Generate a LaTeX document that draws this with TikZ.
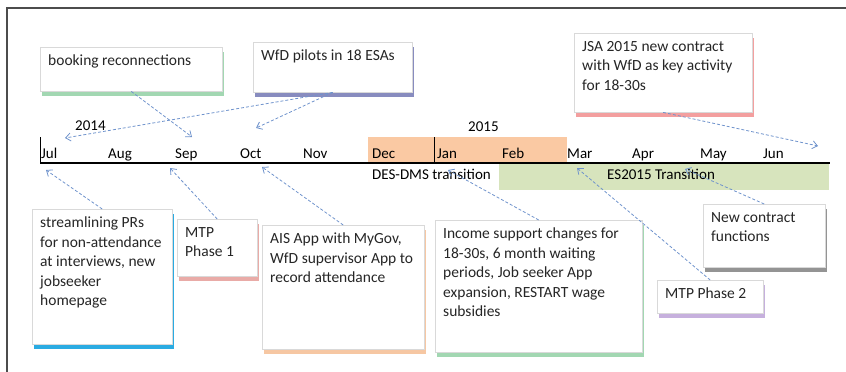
\documentclass[tikz,border=0pt]{standalone}
\usepackage{fontspec}
\setmainfont{Carlito}
\usetikzlibrary{arrows.meta,shadows}

\definecolor{linkblue}{HTML}{6F93CC}
\definecolor{decband}{HTML}{FAC9A3}
\definecolor{esband}{HTML}{D7E4BD}
\definecolor{notegreen}{HTML}{9DD5AE}
\definecolor{noteslate}{HTML}{8286BC}
\definecolor{notered}{HTML}{F29A9A}
\definecolor{noteblue}{HTML}{1FA6E0}
\definecolor{notepink}{HTML}{E8A6A2}
\definecolor{noteorange}{HTML}{F6C49E}
\definecolor{notepurple}{HTML}{C3ACDB}
\definecolor{notegray}{HTML}{8E8E8E}

\begin{document}
\begin{tikzpicture}[x=1pt,y=-1pt,
  note/.style={draw=black!15,fill=white,anchor=north west,inner sep=8pt,
    text=black!85,font=\fontsize{15.5}{19.5}\selectfont},
  under/.style={drop shadow={shadow xshift=2pt,shadow yshift=-4.5pt,fill=#1,opacity=0.95}},
  month/.style={anchor=base west,inner sep=0pt,font=\fontsize{15}{18}\selectfont},
  link/.style={draw=linkblue,line width=0.8pt,dash pattern=on 3pt off 2pt,
    -{Straight Barb[length=5pt,width=8pt]}}]
\useasboundingbox (0,0) rectangle (846,372);
\draw[black!70,line width=1.2pt] (7,372) -- (7,8) -- (846,8);

% bands behind the axis
\fill[decband] (368,137) rectangle (567,162);
\fill[esband] (499,164) rectangle (829,190);

% axis
\draw[line width=2.4pt] (40,163) -- (830,163);
\draw[line width=1pt] (40,137) -- (40,163);
\draw[line width=1pt] (434,137) -- (434,163);

\path (75,130) node[month] (y14) {2014};
\path (468,131) node[month] (y15) {2015};

\path (41,158) node[month] (jul) {Jul};
\path (108,158) node[month] (aug) {Aug};
\path (175,158) node[month] (sep) {Sep};
\path (240,158) node[month] (oct) {Oct};
\path (303,158) node[month] (nov) {Nov};
\path (372,158) node[month] (dec) {Dec};
\path (437,158) node[month] (jan) {Jan};
\path (502,158) node[month] (feb) {Feb};
\path (567,158) node[month] (mar) {Mar};
\path (632,158) node[month] (apr) {Apr};
\path (700,158) node[month] (may) {May};
\path (763,158) node[month] (jun) {Jun};

\path (372,179) node[month] (desdms) {DES-DMS transition};
\path (607,179) node[month] (es15) {ES2015 Transition};

% notes above the line
\path (40,47) node[note,under=notegreen] (book)
  {\parbox[t][28pt][t]{166pt}{booking reconnections}};
\path (253,42) node[note,under=noteslate] (wfd)
  {\parbox[t][34pt][t]{143pt}{WfD pilots in 18 ESAs}};
\path (574,33) node[note,under=notered] (jsa)
  {\parbox[t][63pt][t]{162pt}{JSA 2015 new contract\\with WfD as key activity\\for 18-30s}};

% notes below the line
\path (32,209) node[note,under=noteblue] (rfs)
  {\parbox[t][119pt][t]{124pt}{streamlining PRs\\for non-attendance\\at interviews, new\\jobseeker\\homepage}};
\path (177,219) node[note,under=notepink] (mtpa)
  {\parbox[t][41pt][t]{64pt}{MTP\\Phase 1}};
\path (262,225) node[note,under=noteorange] (ais)
  {\parbox[t][108pt][t]{146pt}{AIS App with MyGov,\\WfD supervisor App to\\record attendance}};
\path (435,220) node[note,under=notegreen] (income)
  {\parbox[t][116pt][t]{191pt}{Income support changes for\\18-30s, 6 month waiting\\periods, Job seeker App\\expansion, RESTART wage\\subsidies}};
\path (657,280) node[note,under=notepurple] (mtpb)
  {\parbox[t][17pt][t]{90pt}{MTP Phase 2}};
\path (703,204) node[note,under=notegray] (newc)
  {\parbox[t][47pt][t]{106pt}{New contract\\functions}};

% arrow tips
\coordinate (tbook) at (192,137);
\coordinate (twfda) at (65,138);
\coordinate (twfdb) at (256,128);
\coordinate (tjsa) at (818,146);
\coordinate (trfs) at (46,170);
\coordinate (tmtpa) at (170,168);
\coordinate (tais) at (262,167);
\coordinate (tincome) at (448,170);
\coordinate (tmtpb) at (577,168);
\coordinate (tnewc) at (685,169);

\draw[link] (book.south) -- (tbook);
\draw[link] (wfd.south) -- (twfda);
\draw[link] (wfd.south) -- (twfdb);
\draw[link] (jsa.south) -- (tjsa);
\draw[link] (rfs.north) -- (trfs);
\draw[link] (mtpa.north) -- (tmtpa);
\draw[link] (ais.north) -- (tais);
\draw[link] (income.north) -- (tincome);
\draw[link] (mtpb.north) -- (tmtpb);
\draw[link] (newc.north) -- (tnewc);
\end{tikzpicture}
\end{document}
